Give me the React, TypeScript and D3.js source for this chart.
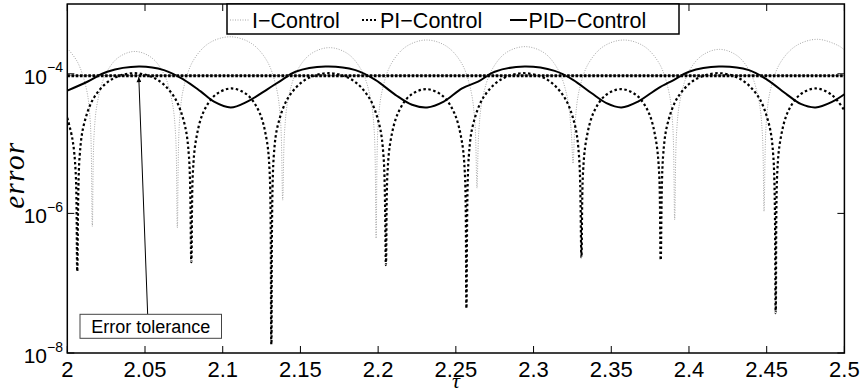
import * as d3 from "d3";

// tau / error pairs
const iControl: [number, number][] = [
  [2.0, 2.32e-4], [2.0066, 1.47e-4], [2.0123, 6.07e-5], [2.0148, 2.03e-5], [2.0161, 6.5e-7],
  [2.0172, 1.31e-5], [2.0194, 3.92e-5], [2.0243, 9.48e-5], [2.0325, 1.69e-4], [2.0435, 2.09e-4],
  [2.0544, 1.69e-4], [2.0626, 9.48e-5], [2.0675, 3.92e-5], [2.0697, 1.31e-5], [2.0708, 6.2e-7],
  [2.0722, 2.13e-5], [2.0749, 6.35e-5], [2.081, 1.54e-4], [2.0911, 2.74e-4], [2.1047, 3.39e-4],
  [2.1183, 2.74e-4], [2.1284, 1.54e-4], [2.1345, 6.35e-5], [2.1372, 2.13e-5], [2.1386, 1.55e-6],
  [2.1398, 1.49e-5], [2.1422, 4.45e-5], [2.1476, 1.08e-4], [2.1566, 1.92e-4], [2.1687, 2.37e-4],
  [2.1807, 1.92e-4], [2.1897, 1.08e-4], [2.1951, 4.45e-5], [2.1975, 1.49e-5], [2.1987, 4.4e-7],
  [2.2, 1.92e-5], [2.2026, 5.73e-5], [2.2084, 1.39e-4], [2.2182, 2.47e-4], [2.2312, 3.05e-4],
  [2.2441, 2.47e-4], [2.2539, 1.39e-4], [2.2597, 5.73e-5], [2.2623, 1.92e-5], [2.2636, 2.3e-6],
  [2.2648, 1.54e-5], [2.2673, 4.6e-5], [2.2729, 1.11e-4], [2.2821, 1.99e-4], [2.2945, 2.45e-4],
  [2.3069, 1.99e-4], [2.3161, 1.11e-4], [2.3217, 4.6e-5], [2.3242, 1.54e-5], [2.3254, 5.2e-6],
  [2.3267, 1.92e-5], [2.3293, 5.73e-5], [2.3352, 1.39e-4], [2.345, 2.47e-4], [2.3581, 3.05e-4],
  [2.3712, 2.47e-4], [2.381, 1.39e-4], [2.3869, 5.73e-5], [2.3895, 1.92e-5], [2.3908, 8.1e-7],
  [2.392, 1.41e-5], [2.3943, 4.2e-5], [2.3994, 1.02e-4], [2.4081, 1.81e-4], [2.4196, 2.24e-4],
  [2.4311, 1.81e-4], [2.4397, 1.02e-4], [2.4449, 4.2e-5], [2.4472, 1.41e-5], [2.4483, 1.07e-6],
  [2.4497, 1.96e-5], [2.4524, 5.85e-5], [2.4586, 1.42e-4], [2.4689, 2.52e-4], [2.4826, 3.12e-4],
  [2.4963, 2.52e-4], [2.5, 2.19e-4],
];

const piControl: [number, number][] = [
  [2.0, 2.34e-5], [2.0033, 1.16e-5], [2.0054, 3.87e-6], [2.0064, 1.48e-7],
  [2.0079, 6.43e-6], [2.0108, 1.92e-5], [2.0174, 4.65e-5], [2.0284, 8.28e-5], [2.0431, 1.02e-4],
  [2.0578, 8.28e-5], [2.0688, 4.65e-5], [2.0754, 1.92e-5], [2.0783, 6.43e-6], [2.0798, 2.0e-7],
  [2.0808, 3.87e-6], [2.0829, 1.16e-5], [2.0875, 2.8e-5], [2.0953, 4.99e-5], [2.1056, 6.17e-5],
  [2.1159, 4.99e-5], [2.1236, 2.8e-5], [2.1282, 1.16e-5], [2.1302, 3.87e-6], [2.1313, 1.32e-8],
  [2.1328, 6.43e-6], [2.1357, 1.92e-5], [2.1424, 4.65e-5], [2.1534, 8.28e-5], [2.1682, 1.02e-4],
  [2.1829, 8.28e-5], [2.1939, 4.65e-5], [2.2006, 1.92e-5], [2.2035, 6.43e-6], [2.205, 1.82e-7],
  [2.206, 3.78e-6], [2.2081, 1.13e-5], [2.2128, 2.74e-5], [2.2205, 4.88e-5], [2.2309, 6.03e-5],
  [2.2413, 4.88e-5], [2.249, 2.74e-5], [2.2537, 1.13e-5], [2.2558, 3.78e-6], [2.2568, 4.37e-8],
  [2.2583, 6.43e-6], [2.2612, 1.92e-5], [2.2679, 4.65e-5], [2.279, 8.28e-5], [2.2938, 1.02e-4],
  [2.3086, 8.28e-5], [2.3197, 4.65e-5], [2.3264, 1.92e-5], [2.3293, 6.43e-6], [2.3308, 2.34e-7],
  [2.3318, 3.78e-6], [2.3339, 1.13e-5], [2.3385, 2.74e-5], [2.3461, 4.88e-5], [2.3563, 6.03e-5],
  [2.3665, 4.88e-5], [2.3742, 2.74e-5], [2.3787, 1.13e-5], [2.3808, 3.78e-6], [2.3818, 2.14e-7],
  [2.3833, 6.43e-6], [2.3862, 1.92e-5], [2.3929, 4.65e-5], [2.404, 8.28e-5], [2.4188, 1.02e-4],
  [2.4336, 8.28e-5], [2.4447, 4.65e-5], [2.4514, 1.92e-5], [2.4543, 6.43e-6], [2.4558, 3.72e-8],
  [2.4568, 3.87e-6], [2.4589, 1.16e-5], [2.4635, 2.8e-5], [2.4713, 4.99e-5], [2.4816, 6.17e-5],
  [2.4919, 4.99e-5], [2.5, 3.0e-5],
];

const pidControl: [number, number][] = [
  [2.0, 5.74e-5], [2.0129, 7.7e-5], [2.0257, 1.07e-4], [2.0461, 1.27e-4], [2.0622, 1.13e-4],
  [2.0751, 8.2e-5], [2.0858, 5.6e-5], [2.0944, 4.0e-5], [2.1051, 3.3e-5], [2.1158, 4.0e-5],
  [2.1287, 6.0e-5], [2.1382, 8.2e-5], [2.1468, 1.07e-4], [2.1661, 1.27e-4], [2.1854, 1.13e-4],
  [2.1982, 8.2e-5], [2.2111, 5.0e-5], [2.2218, 3.6e-5], [2.2315, 3.3e-5], [2.2422, 4.0e-5],
  [2.254, 6.2e-5], [2.2643, 7.7e-5], [2.275, 1.07e-4], [2.2943, 1.27e-4], [2.3136, 1.1e-4],
  [2.3254, 8.2e-5], [2.3372, 5.3e-5], [2.3469, 3.8e-5], [2.3565, 3.3e-5], [2.3672, 4.0e-5],
  [2.3801, 6.2e-5], [2.3904, 8.2e-5], [2.4, 1.07e-4], [2.4193, 1.27e-4], [2.4386, 1.13e-4],
  [2.4504, 8.2e-5], [2.4633, 5.0e-5], [2.4719, 3.7e-5], [2.4815, 3.3e-5], [2.4923, 4.0e-5],
  [2.5, 5.1e-5],
];

const tolerance = 9.4e-5;
const tauTicks = [2, 2.05, 2.1, 2.15, 2.2, 2.25, 2.3, 2.35, 2.4, 2.45, 2.5];
const errTicks = [1e-8, 1e-6, 1e-4];
const errTickExp = ["−8", "−6", "−4"];
const legendLabels = ["I−Control", "PI−Control", "PID−Control"];

const W = 862;
const H = 392;
const x0 = 67.3, x1 = 844.4, yTop = 4, yBot = 353;
const sans = "'Liberation Sans', Arial, Helvetica, sans-serif";
const serif = "'Liberation Serif', 'Times New Roman', serif";

export default function App() {
  const x = d3.scaleLinear().domain([2, 2.5]).range([x0, x1]);
  const y = d3.scaleLog().domain([1e-8, 1e-3]).range([yBot, yTop]);

  const line = d3
    .line<[number, number]>()
    .x((d) => x(d[0]))
    .y((d) => y(d[1]))
    .curve(d3.curveCatmullRom.alpha(0.5));

  const tolY = y(tolerance);
  const arrowX = x(2.046);
  const boxX = x(2.0517);

  return (
    <svg
      width={W}
      height={H}
      style={{ position: "absolute", left: 0, top: 0, background: "#fff" }}
    >
      <defs>
        <clipPath id="plot">
          <rect x={x0} y={yTop} width={x1 - x0} height={yBot - yTop} />
        </clipPath>
        <marker id="head" viewBox="0 0 10 10" refX="10" refY="5" markerWidth="7" markerHeight="5" orient="auto" markerUnits="userSpaceOnUse">
          <path d="M0,0 L10,5 L0,10 z" fill="#000" />
        </marker>
      </defs>
      <rect x={0} y={0} width={W} height={H} fill="#fff" />

      <g clipPath="url(#plot)">
        <path d={line(iControl) ?? ""} fill="none" stroke="#a6a6a6" strokeWidth={1} strokeDasharray="1 1.5" />
        <path d={line(piControl) ?? ""} fill="none" stroke="#000" strokeWidth={2.2} strokeDasharray="2.5 2.5" />
        <path d={line(pidControl) ?? ""} fill="none" stroke="#000" strokeWidth={2} />
        <line x1={x0} x2={x1} y1={tolY} y2={tolY} stroke="#555" strokeWidth={0.8} />
        <line x1={x0} x2={x1} y1={tolY} y2={tolY} stroke="#000" strokeWidth={3} strokeDasharray="2.6 1.6" />
      </g>

      {/* axes box */}
      <rect x={x0} y={yTop} width={x1 - x0} height={yBot - yTop} fill="none" stroke="#000" strokeWidth={1.5} />

      {tauTicks.map((t) => (
        <g key={t}>
          <line x1={x(t)} x2={x(t)} y1={yBot} y2={yBot - 7} stroke="#000" />
          <line x1={x(t)} x2={x(t)} y1={yTop} y2={yTop + 7} stroke="#000" />
          <text x={x(t)} y={376.5} textAnchor="middle" fontFamily={sans} fontSize={22}>
            {String(t)}
          </text>
        </g>
      ))}

      {errTicks.map((v, i) => (
        <g key={v}>
          <line x1={x0} x2={x0 + 7} y1={y(v)} y2={y(v)} stroke="#000" />
          <line x1={x1} x2={x1 - 7} y1={y(v)} y2={y(v)} stroke="#000" />
          <text x={63} y={y(v) + 10} textAnchor="end" fontFamily={sans}>
            <tspan fontSize={21}>10</tspan>
            <tspan fontSize={14} dy={-11.5}>{errTickExp[i]}</tspan>
          </text>
        </g>
      ))}

      <text transform="translate(24,175) rotate(-90)" textAnchor="middle" fontFamily={serif} fontStyle="italic" fontSize={29} letterSpacing={1.5}>
        error
      </text>
      <text x={x(2.25)} y={388} textAnchor="middle" fontFamily={serif} fontStyle="italic" fontSize={22}>
        τ
      </text>

      {/* legend */}
      <rect x={227} y={4} width={452} height={30} fill="#fff" stroke="#000" strokeWidth={1.5} />
      <line x1={230} x2={250} y1={20} y2={20} stroke="#a6a6a6" strokeWidth={1} strokeDasharray="1 1.5" />
      <text x={252} y={27.5} fontFamily={sans} fontSize={21.5}>{legendLabels[0]}</text>
      <line x1={362} x2={378} y1={20} y2={20} stroke="#000" strokeWidth={2} strokeDasharray="2 2" />
      <text x={380} y={27.5} fontFamily={sans} fontSize={21.5}>{legendLabels[1]}</text>
      <line x1={510} x2={527} y1={20} y2={20} stroke="#000" strokeWidth={2} />
      <text x={528.5} y={27.5} fontFamily={sans} fontSize={21.5}>{legendLabels[2]}</text>

      {/* annotation */}
      <line x1={boxX} y1={314} x2={arrowX} y2={tolY + 1.5} stroke="#000" strokeWidth={1} markerEnd="url(#head)" />
      <rect x={80} y={314.3} width={141.5} height={24} fill="#fff" stroke="#444" strokeWidth={1} />
      <text x={150.7} y={332.5} textAnchor="middle" fontFamily={sans} fontSize={18}>
        Error tolerance
      </text>
    </svg>
  );
}
